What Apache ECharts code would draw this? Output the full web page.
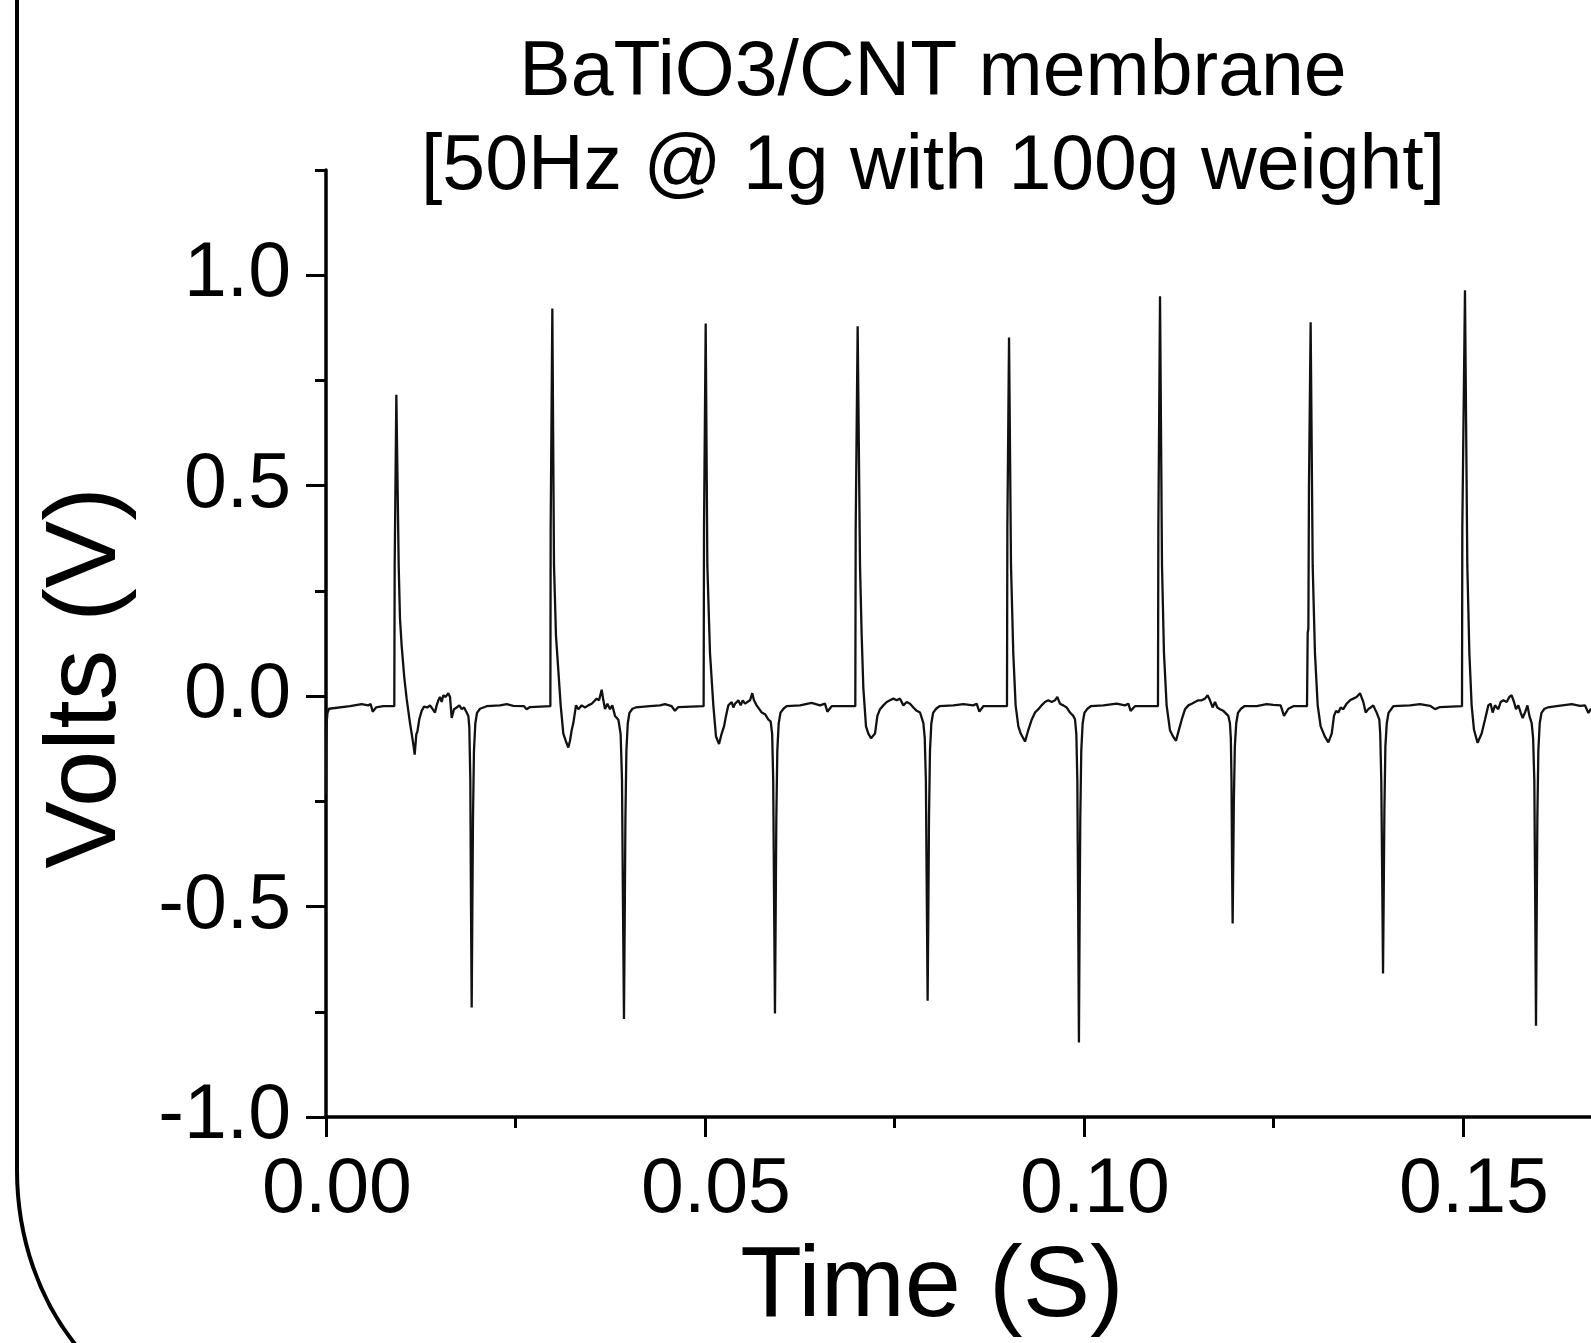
<!DOCTYPE html>
<html>
<head>
<meta charset="utf-8">
<script src="https://cdn.jsdelivr.net/npm/echarts/dist/echarts.min.js"></script>
<style>
  html, body { margin: 0; padding: 0; background: #fff; }
  #chart { width: 1591px; height: 1343px; }
</style>
</head>
<body>
<div id="chart"></div>
<script>
// ---- Data (time in seconds, voltage in volts) ----
const titleLines = ['BaTiO3/CNT membrane', '[50Hz @ 1g with 100g weight]'];
const xAxisTitle = 'Time (S)';
const yAxisTitle = 'Volts (V)';
const xTicks = [0, 0.05, 0.10, 0.15, 0.20];
const yTicks = [-1.0, -0.5, 0.0, 0.5, 1.0];

const leadIn = [[0,-0.23],[0.00004,-0.12],[0.0001,-0.06],[0.0002,-0.04],[0.0004,-0.03],[0.00053,-0.027],[0.00317,-0.024],[0.0047,-0.019],[0.00558,-0.022],[0.00589,-0.019],[0.00616,-0.037],[0.0066,-0.027],[0.00756,-0.024],[0.00901,-0.024]];

const cycle1 = [[0.00906,0.31],[0.00928,0.716],[0.00959,0.31],[0.00976,0.185],[0.00998,0.12],[0.01033,0.044],[0.01064,-0.006],[0.01108,-0.064],[0.01152,-0.114],[0.0117,-0.139],[0.01192,-0.09],[0.01205,-0.085],[0.01231,-0.055],[0.01262,-0.035],[0.01293,-0.025],[0.01337,-0.027],[0.01372,-0.022],[0.01407,-0.031],[0.01438,-0.039],[0.0146,-0.022],[0.01482,-0.01],[0.01504,-0.002],[0.01526,-0.014],[0.01548,0.002],[0.01579,-0.002],[0.01614,0.007],[0.01636,-0.002],[0.01658,-0.052],[0.01689,-0.031],[0.01724,-0.027],[0.01759,-0.022],[0.0179,-0.031],[0.01821,-0.027],[0.01856,-0.039],[0.01878,-0.047],
  [0.01891,-0.075],[0.01904,-0.2],[0.01913,-0.5],[0.01922,-0.74],[0.01931,-0.5],[0.01939,-0.29],[0.01952,-0.13],[0.0197,-0.065],[0.01992,-0.04],[0.02032,-0.03],[0.02076,-0.027],
  [0.0212,-0.024],[0.02296,-0.022],[0.02383,-0.019],[0.02471,-0.023],[0.02612,-0.024],[0.02647,-0.031],[0.02691,-0.026],[0.0296,-0.024]];

const cycle2 = [[0.02964,0.4],[0.02986,0.921],[0.03008,0.31],[0.03034,0.144],[0.03065,0.061],[0.03096,-0.022],[0.03131,-0.089],[0.03162,-0.106],[0.03197,-0.122],[0.03219,-0.106],[0.03241,-0.081],[0.03263,-0.064],[0.03298,-0.022],[0.03329,-0.031],[0.03373,-0.022],[0.03417,-0.027],[0.03461,-0.022],[0.03505,-0.018],[0.03527,-0.022],[0.03571,-0.006],[0.03602,-0.01],[0.03637,0.015],[0.03659,-0.01],[0.03681,-0.031],[0.03712,-0.018],[0.03747,-0.031],[0.03777,-0.022],[0.03813,-0.047],[0.03857,-0.056],
  [0.03887,-0.09],[0.03905,-0.2],[0.03918,-0.5],[0.03931,-0.767],[0.03942,-0.5],[0.0395,-0.29],[0.03963,-0.13],[0.03981,-0.065],[0.04003,-0.04],[0.04043,-0.03],[0.04087,-0.027],
  [0.04274,-0.024],[0.04406,-0.022],[0.04472,-0.019],[0.0456,-0.024],[0.04604,-0.035],[0.04648,-0.026],[0.04982,-0.024]];

const cycle3 = [[0.04987,0.4],[0.05009,0.885],[0.05031,0.31],[0.05066,0.102],[0.0511,-0.022],[0.05145,-0.096],[0.05185,-0.114],[0.0522,-0.089],[0.05251,-0.072],[0.05277,-0.047],[0.05308,-0.022],[0.05352,-0.014],[0.05374,-0.027],[0.05396,-0.018],[0.0544,-0.01],[0.05471,-0.022],[0.05497,-0.01],[0.05528,-0.018],[0.05559,-0.014],[0.05594,-0.01],[0.05624,0.007],[0.05646,-0.01],[0.05681,-0.022],[0.05717,-0.031],[0.05748,-0.039],[0.05792,-0.043],[0.05836,-0.056],[0.05866,-0.06],
  [0.05886,-0.09],[0.059,-0.2],[0.05912,-0.5],[0.05923,-0.754],[0.05933,-0.5],[0.05941,-0.29],[0.05954,-0.13],[0.05972,-0.065],[0.05995,-0.04],[0.06035,-0.03],[0.06077,-0.024],
  [0.06253,-0.022],[0.06407,-0.016],[0.06517,-0.022],[0.06583,-0.018],[0.06614,-0.037],[0.06671,-0.024],[0.06983,-0.024]];

const cycle4 = [[0.06988,0.4],[0.07014,0.879],[0.07045,0.31],[0.07067,0.144],[0.07089,0.019],[0.07124,-0.072],[0.07155,-0.089],[0.0719,-0.1],[0.07243,-0.089],[0.07274,-0.047],[0.07309,-0.031],[0.07353,-0.022],[0.07397,-0.014],[0.07441,-0.01],[0.07485,-0.006],[0.07529,-0.01],[0.07573,-0.006],[0.07617,-0.022],[0.07661,-0.014],[0.07705,-0.018],[0.07749,-0.027],[0.07793,-0.035],[0.07837,-0.039],[0.07881,-0.064],
  [0.07899,-0.1],[0.07914,-0.2],[0.07927,-0.5],[0.07937,-0.724],[0.07947,-0.5],[0.07955,-0.29],[0.07968,-0.13],[0.07986,-0.065],[0.08009,-0.04],[0.08049,-0.03],[0.08093,-0.024],
  [0.08276,-0.022],[0.08408,-0.019],[0.0854,-0.022],[0.08584,-0.018],[0.08619,-0.037],[0.08672,-0.024],[0.08984,-0.024]];

const cycle5 = [[0.08989,0.4],[0.09011,0.852],[0.09037,0.31],[0.09067,0.102],[0.09098,-0.022],[0.09134,-0.072],[0.09165,-0.089],[0.09222,-0.108],[0.09266,-0.08],[0.0931,-0.056],[0.09354,-0.039],[0.09398,-0.031],[0.09441,-0.022],[0.09485,-0.014],[0.09529,-0.01],[0.09573,-0.014],[0.09617,-0.01],[0.09648,-0.002],[0.09683,-0.018],[0.09727,-0.022],[0.09771,-0.027],[0.09815,-0.039],[0.09859,-0.047],[0.09881,-0.055],
  [0.09899,-0.09],[0.09912,-0.2],[0.09923,-0.5],[0.09933,-0.823],[0.09943,-0.5],[0.09951,-0.29],[0.09964,-0.13],[0.09982,-0.065],[0.10005,-0.04],[0.10045,-0.03],[0.10089,-0.024],
  [0.10255,-0.022],[0.10431,-0.018],[0.1054,-0.022],[0.10585,-0.018],[0.10615,-0.035],[0.10673,-0.024],[0.10976,-0.024]];

const cycle6 = [[0.10981,0.4],[0.11003,0.95],[0.11029,0.31],[0.11055,0.102],[0.1109,-0.022],[0.11134,-0.081],[0.11178,-0.097],[0.11214,-0.106],[0.11245,-0.085],[0.11289,-0.056],[0.11333,-0.031],[0.11377,-0.022],[0.11421,-0.018],[0.11464,-0.014],[0.11508,-0.01],[0.11552,-0.01],[0.11596,-0.006],[0.11631,0.002],[0.11662,-0.01],[0.11697,-0.027],[0.11728,-0.014],[0.11759,-0.027],[0.11794,-0.031],[0.11838,-0.035],[0.11904,-0.047],[0.11925,-0.064],
  [0.11937,-0.1],[0.11946,-0.2],[0.11953,-0.4],[0.11961,-0.54],[0.11969,-0.4],[0.11977,-0.25],[0.1199,-0.12],[0.12008,-0.065],[0.12031,-0.04],[0.12071,-0.03],[0.12115,-0.024],
  [0.12278,-0.024],[0.1241,-0.019],[0.12498,-0.021],[0.12594,-0.022],[0.12639,-0.047],[0.12696,-0.03],[0.12762,-0.024],[0.12942,-0.024]];

const cycle7 = [[0.12951,0.15],[0.1296,0.16],[0.12968,0.5],[0.1299,0.888],[0.13017,0.31],[0.13047,0.102],[0.13083,-0.022],[0.13122,-0.072],[0.1318,-0.097],[0.13224,-0.11],[0.13268,-0.089],[0.13298,-0.047],[0.13325,-0.035],[0.13356,-0.039],[0.13386,-0.027],[0.13421,-0.031],[0.13465,-0.018],[0.13509,-0.01],[0.13553,-0.006],[0.13597,-0.002],[0.13641,0.007],[0.13663,0.011],[0.13685,-0.014],[0.13716,-0.039],[0.13751,-0.031],[0.13782,-0.027],[0.13817,-0.022],[0.13839,-0.031],[0.13861,-0.039],[0.13896,-0.056],
  [0.13908,-0.09],[0.13922,-0.2],[0.13935,-0.45],[0.13945,-0.659],[0.13955,-0.45],[0.13963,-0.27],[0.13976,-0.12],[0.13994,-0.065],[0.14017,-0.04],[0.14057,-0.03],[0.14081,-0.024],
  [0.14301,-0.022],[0.14433,-0.019],[0.14565,-0.023],[0.14631,-0.031],[0.14697,-0.026],[0.14987,-0.024]];

const cycle8 = [[0.14991,0.4],[0.15026,0.964],[0.15057,0.31],[0.15084,0.102],[0.15114,-0.022],[0.15145,-0.08],[0.15193,-0.111],[0.15246,-0.089],[0.1529,-0.056],[0.15334,-0.022],[0.15365,-0.018],[0.15391,-0.039],[0.15422,-0.022],[0.15466,-0.031],[0.15497,-0.014],[0.15532,-0.01],[0.15576,-0.014],[0.15611,-0.002],[0.15642,0.002],[0.15673,-0.014],[0.15699,-0.031],[0.1573,-0.022],[0.15761,-0.039],[0.15787,-0.052],[0.15818,-0.039],[0.1585,-0.022],[0.15876,-0.047],[0.15906,-0.064],
  [0.15925,-0.1],[0.15941,-0.2],[0.15953,-0.5],[0.15963,-0.783],[0.15973,-0.5],[0.15981,-0.29],[0.15994,-0.13],[0.16012,-0.065],[0.16035,-0.04],[0.16075,-0.03],[0.16119,-0.027],
  [0.16236,-0.024],[0.16434,-0.019],[0.16544,-0.023],[0.1661,-0.022],[0.16654,-0.04],[0.16689,-0.03]];

// ---- Chart ----
const FONT = '"Liberation Sans", Arial, Helvetica, sans-serif';
const seriesData = [].concat(leadIn, cycle1, cycle2, cycle3, cycle4, cycle5, cycle6, cycle7, cycle8);

const chart = echarts.init(document.getElementById('chart'), null, { renderer: 'canvas' });
const textStyle = (font) => ({ font: font, fill: '#000', align: 'center', verticalAlign: 'middle' });
const option = {
  animation: false,
  backgroundColor: '#ffffff',
  grid: [
    { left: 326, top: 170, width: 1516, height: 947, containLabel: false, outerBoundsMode: 'none' },
    { left: 326, top: 275, width: 1516, height: 842, containLabel: false, outerBoundsMode: 'none' }
  ],
  xAxis: [
    {
      type: 'value', gridIndex: 0, min: xTicks[0], max: xTicks[xTicks.length - 1], interval: 0.05,
      axisLine: { show: true, onZero: false, lineStyle: { color: '#000', width: 3.5 } },
      axisTick: { show: true, inside: false, length: 20, lineStyle: { color: '#000', width: 3 } },
      minorTick: { show: true, splitNumber: 2, length: 11, lineStyle: { color: '#000', width: 3 } },
      splitLine: { show: false },
      axisLabel: {
        show: true, margin: 35, color: '#000', fontFamily: FONT, fontSize: 77,
        padding: [0, 0, 0, 22],
        formatter: function (v) { return v.toFixed(2); }
      }
    },
    {
      type: 'value', gridIndex: 1, min: xTicks[0], max: xTicks[xTicks.length - 1], interval: 0.05, show: false
    }
  ],
  yAxis: [
    {
      type: 'value', gridIndex: 0, min: -1, max: 1.25, interval: 0.25,
      axisLine: { show: true, onZero: false, lineStyle: { color: '#000', width: 3.5 } },
      axisTick: { show: true, inside: false, length: 11, lineStyle: { color: '#000', width: 3 } },
      splitLine: { show: false },
      axisLabel: { show: false }
    },
    {
      type: 'value', gridIndex: 1, min: yTicks[0], max: yTicks[yTicks.length - 1], interval: 0.5,
      axisLine: { show: false, onZero: false },
      axisTick: { show: true, inside: false, length: 20, lineStyle: { color: '#000', width: 3 } },
      splitLine: { show: false },
      axisLabel: {
        show: true, margin: 35, color: '#000', fontFamily: FONT, fontSize: 77,
        formatter: function (v) { return v.toFixed(1); }
      }
    }
  ],
  series: [
    {
      type: 'line', xAxisIndex: 0, yAxisIndex: 0,
      data: seriesData,
      showSymbol: false, symbol: 'none',
      lineStyle: { color: '#111111', width: 2.3 },
      clip: true
    }
  ],
  graphic: [
    {
      type: 'line', silent: true,
      shape: { x1: 17, y1: -10, x2: 17, y2: 1170 },
      style: { stroke: '#000', lineWidth: 4 }
    },
    {
      type: 'bezierCurve', silent: true,
      shape: { x1: 17, y1: 1170, cpx1: 17, cpy1: 1308, cpx2: 109, cpy2: 1420, x2: 222, y2: 1420 },
      style: { stroke: '#000', lineWidth: 4, fill: null }
    },
    { type: 'text', x: 933, y: 74, style: Object.assign({ text: titleLines[0] }, textStyle('77px ' + FONT)) },
    { type: 'text', x: 933, y: 168, style: Object.assign({ text: titleLines[1] }, textStyle('77px ' + FONT)) },
    { type: 'text', x: 932, y: 1288, style: Object.assign({ text: xAxisTitle }, textStyle('101px ' + FONT)) },
    { type: 'text', x: 87, y: 678, rotation: Math.PI / 2, style: Object.assign({ text: yAxisTitle }, textStyle('101px ' + FONT)) }
  ]
};
chart.setOption(option);
</script>
</body>
</html>
